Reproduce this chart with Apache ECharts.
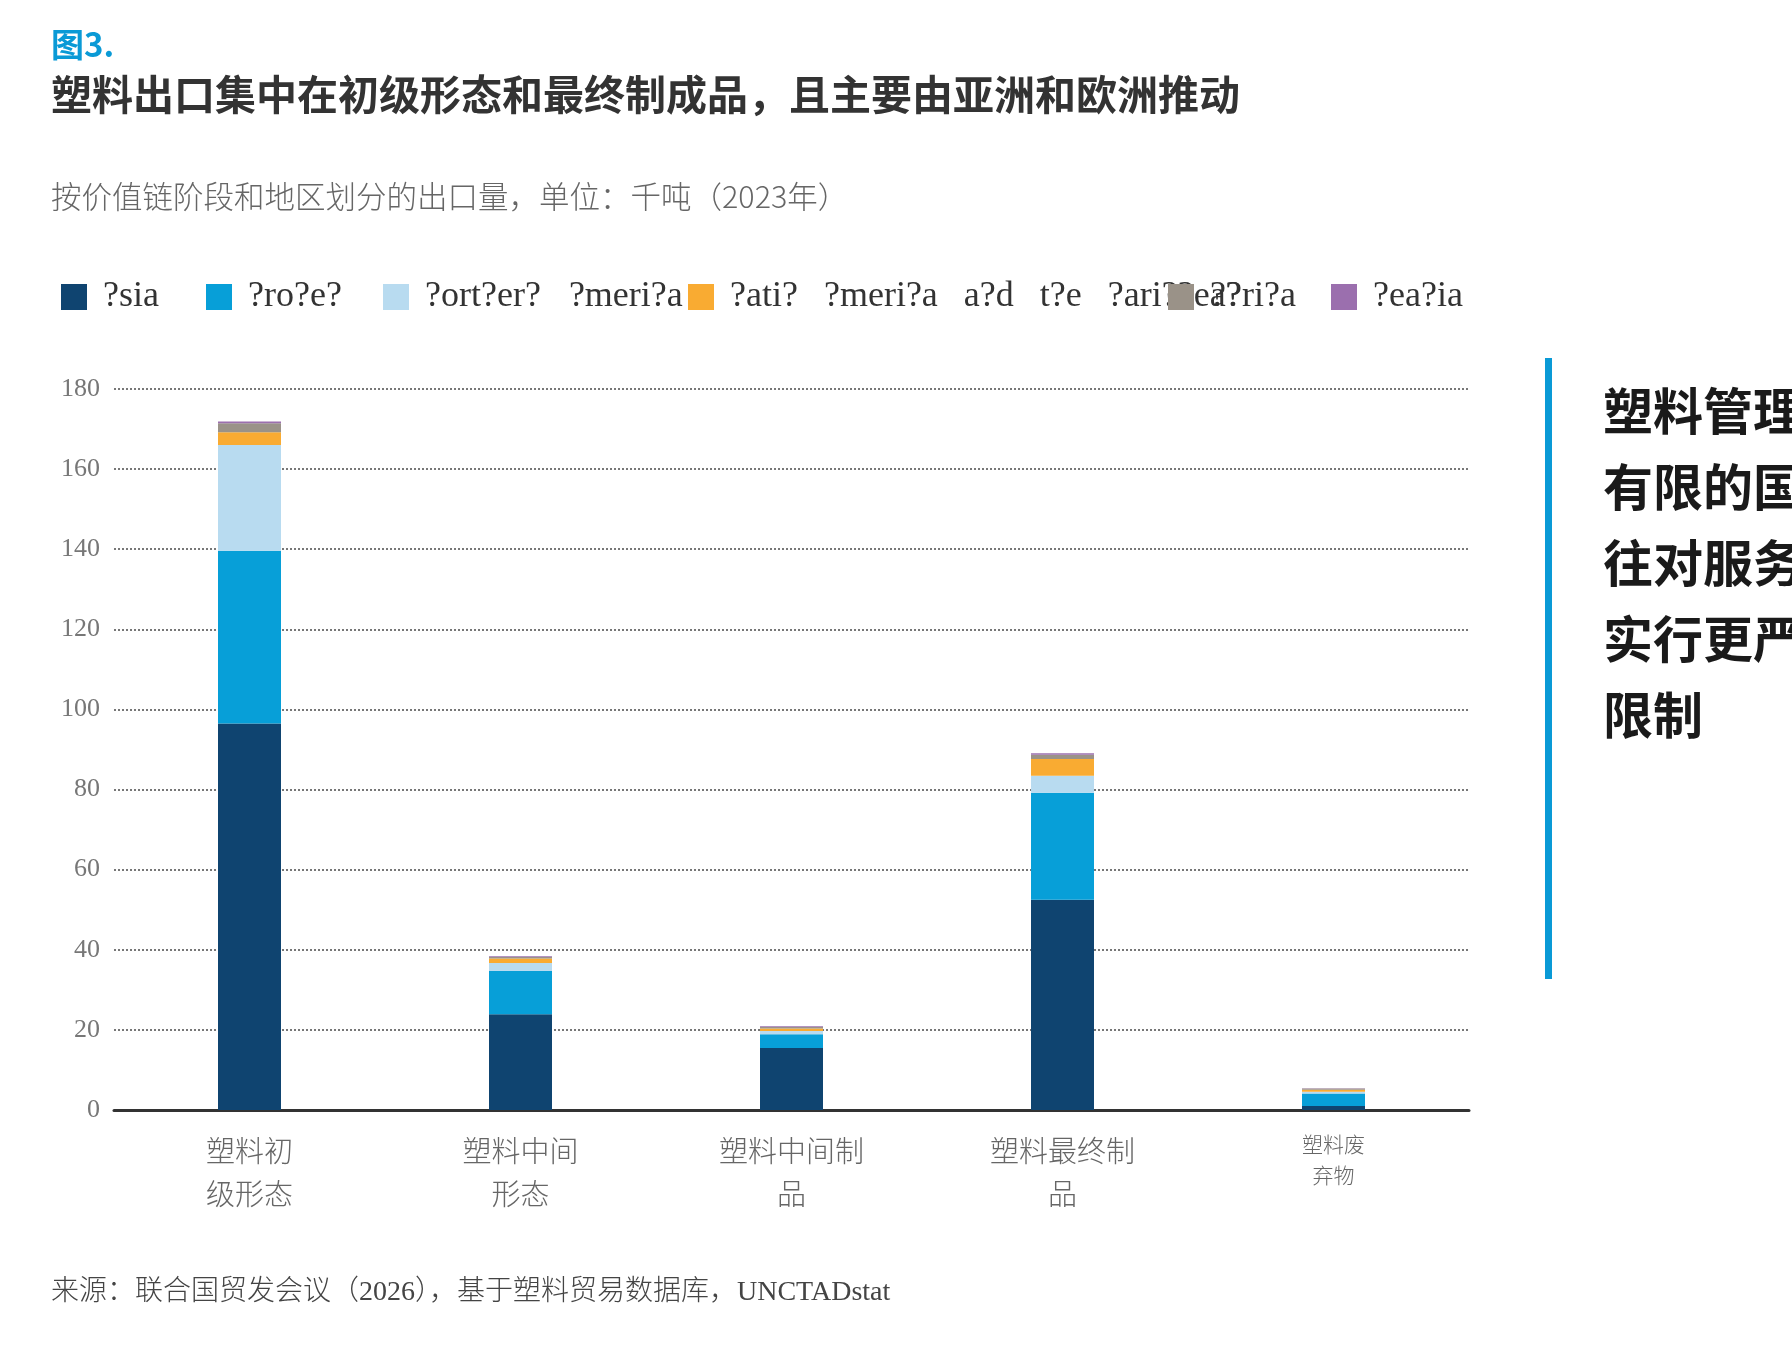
<!DOCTYPE html>
<html>
<head>
<meta charset="utf-8">
<script src="https://cdn.jsdelivr.net/npm/echarts/dist/echarts.min.js"></script>
<style>
  html, body { margin: 0; padding: 0; background: #fff; }
  #chart { width: 1792px; height: 1345px; }
</style>
</head>
<body>
<div id="chart"></div>
<script>
// categories (value chain stage)
const categories = ["塑料初\n级形态", "塑料中间\n形态", "塑料中间制\n品", "塑料最终制\n品", "塑料废\n弃物"];

// legend names as they appear in the source picture
const seriesNames = ["?sia", "?ro?e?", "?ort?er? ?meri?a", "?ati? ?meri?a a?d t?e ?ari??ea?", "??ri?a", "?ea?ia"];

// thousand tonnes
const asia = [96.5, 23.9, 15.5, 52.5, 1.0];
const europe = [43.1, 10.8, 3.4, 26.7, 3.1];
const northernAmerica = [26.4, 2.0, 0.85, 4.25, 0.45];
const latinAmerica = [3.2, 1.1, 0.6, 4.15, 0.5];
const africa = [2.25, 0.4, 0.35, 1.1, 0.3];
const oceania = [0.45, 0.2, 0.2, 0.35, 0.1];

const yTicks = [0, 20, 40, 60, 80, 100, 120, 140, 160, 180];

const colors = ["#0f4470", "#079fd8", "#b8dbf0", "#f9ab32", "#9a9288", "#9b6fae"];
const seriesData = [asia, europe, northernAmerica, latinAmerica, africa, oceania];
const legendLeft = [61, 206, 383, 688, 1168, 1331];
// the word gaps in the legend are wider than a normal space
const legendGap = [9, 9, 28, 26, 9, 9];

const serif = '"Liberation Serif", "Noto Sans CJK SC", serif';
const cjk = '"Noto Sans CJK SC", sans-serif';

const chart = echarts.init(document.getElementById("chart"));

const option = {
  backgroundColor: "#fff",
  animation: false,
  color: colors,
  grid: {
    left: 114,
    right: 323,
    top: 389,
    bottom: 235,
    containLabel: false,
  },
  legend: seriesNames.map((n, i) => ({
    data: [n],
    left: legendLeft[i],
    top: 279,
    padding: 0,
    icon: "rect",
    itemWidth: 26,
    itemHeight: 26,
    selectedMode: false,
    formatter: (name) => name.split(" ").join("{s| }"),
    textStyle: {
      fontFamily: serif,
      fontSize: 36,
      color: "#333",
      padding: [0, 0, 0, 11],
      rich: {
        s: { width: legendGap[i], fontSize: 36 },
      },
    },
  })),
  xAxis: {
    type: "category",
    data: categories.map((c, i) =>
      i === 4
        ? { value: c, textStyle: { fontSize: 21, lineHeight: 31 } }
        : c
    ),
    axisLine: { lineStyle: { color: "#333", width: 3 } },
    axisTick: { show: false },
    axisLabel: {
      fontFamily: cjk,
      fontWeight: 300,
      fontSize: 29,
      lineHeight: 43,
      color: "#666",
      margin: 19,
      interval: 0,
    },
  },
  yAxis: {
    type: "value",
    min: yTicks[0],
    max: yTicks[yTicks.length - 1],
    interval: 20,
    axisLine: { show: false },
    axisTick: { show: false },
    axisLabel: {
      fontFamily: serif,
      fontSize: 26,
      color: "#777",
      margin: 14,
    },
    splitLine: {
      lineStyle: { type: [2, 2], color: "#777", width: 2 },
    },
  },
  series: seriesNames.map((n, i) => ({
    name: n,
    type: "bar",
    stack: "total",
    barWidth: 63,
    data: seriesData[i],
    itemStyle: { color: colors[i] },
  })),
  graphic: [
    {
      type: "text",
      left: 51,
      top: 28,
      style: {
        text: "图3.",
        fill: "#0a9ad6",
        font: 'bold 33px "Noto Sans CJK SC"',
      },
    },
    {
      type: "text",
      left: 51,
      top: 74,
      style: {
        text: "塑料出口集中在初级形态和最终制成品，且主要由亚洲和欧洲推动",
        fill: "#333",
        font: 'bold 41px "Noto Sans CJK SC"',
      },
    },
    {
      type: "text",
      left: 51,
      top: 181,
      style: {
        text: "按价值链阶段和地区划分的出口量，单位：千吨（2023年）",
        fill: "#666",
        font: '300 30.5px "Noto Sans CJK SC"',
      },
    },
    {
      type: "text",
      left: 51,
      top: 1279,
      style: {
        text: "来源：联合国贸发会议（2026），基于塑料贸易数据库，UNCTADstat",
        fill: "#444",
        font: '300 28px "Liberation Serif", "Noto Sans CJK SC"',
      },
    },
    {
      type: "rect",
      shape: { x: 1545, y: 358, width: 7, height: 621 },
      style: { fill: "#0a9ad6" },
    },
    {
      type: "text",
      x: 1603,
      y: 373,
      style: {
        text: "塑料管理\n有限的国\n往对服务\n实行更严\n限制",
        fill: "#1a1a1a",
        font: 'bold 50px "Noto Sans CJK SC"',
        lineHeight: 76,
      },
    },
  ],
};

chart.setOption(option);
</script>
</body>
</html>
